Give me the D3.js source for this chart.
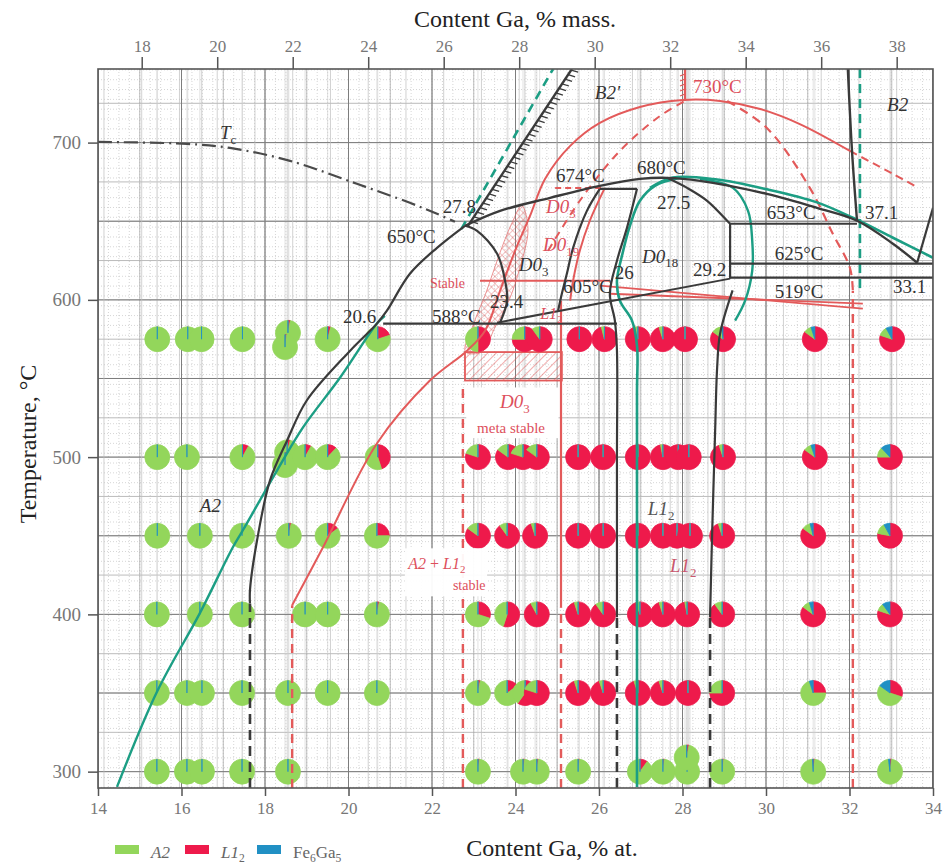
<!DOCTYPE html>
<html>
<head>
<meta charset="utf-8">
<script src="https://cdn.jsdelivr.net/npm/d3@7"></script>
<style>
body { margin: 0; background: #fff; }
svg text { font-family: "Liberation Serif", "DejaVu Serif", serif; }
</style>
</head>
<body>
<script>
// ---- samples: composition (at.% Ga), anneal temperature, phase shares (L12, Fe6Ga5; rest is A2)
const sampleAt = [
  // 575
  15.42, 16.15, 16.48, 17.46, 18.55, 18.48, 19.50, 20.70, 23.10, 24.22, 24.58, 25.53, 26.13, 26.93, 27.53, 28.06, 28.97, 31.17, 33.02,
  // 500
  15.42, 16.13, 17.46, 18.53, 18.48, 18.96, 19.50, 20.70, 23.10, 23.82, 24.18, 24.51, 25.50, 26.10, 26.93, 27.53, 27.90, 28.15, 28.97, 31.17, 32.97,
  // 450
  15.42, 16.44, 17.45, 18.57, 19.50, 20.68, 23.10, 23.80, 24.47, 25.50, 26.10, 26.93, 27.53, 27.87, 28.18, 28.95, 31.13, 32.97,
  // 400
  15.41, 16.44, 17.45, 18.96, 19.50, 20.68, 23.10, 23.80, 24.51, 25.50, 26.10, 26.98, 27.53, 28.11, 28.95, 31.13, 32.97,
  // 350
  15.41, 16.13, 16.49, 17.45, 18.55, 19.50, 20.68, 23.10, 23.80, 24.23, 24.51, 25.50, 26.10, 26.93, 27.53, 28.13, 28.95, 31.13, 32.97,
  // 300
  15.41, 16.13, 16.49, 17.45, 18.55, 23.10, 24.18, 24.51, 25.50, 26.98, 27.53, 28.11, 28.10, 28.95, 31.13, 32.97
]
const sampleT = [
  575, 575, 575, 575, 579, 570, 575, 575, 575, 575, 575, 575, 575, 575, 575, 575, 575, 575, 575,
  500, 500, 500, 503, 495, 500, 500, 500, 500, 500, 500, 500, 500, 500, 500, 500, 500, 500, 500, 500, 500,
  450, 450, 450, 450, 450, 450, 450, 450, 450, 450, 450, 450, 450, 450, 450, 450, 450, 450,
  400, 400, 400, 400, 400, 400, 400, 400, 400, 400, 400, 400, 400, 400, 400, 400, 400,
  350, 350, 350, 350, 350, 350, 350, 350, 350, 350, 350, 350, 350, 350, 350, 350, 350, 350, 350,
  300, 300, 300, 300, 300, 300, 300, 300, 300, 300, 300, 300, 309, 300, 300, 300
]
const shareL12 = [
  0, 0, 0, 0, 0.03, 0.02, 0.04, 0.20, 0.50, 0.75, 0.90, 1, 0.96, 0.97, 0.95, 1, 0.85, 0.85, 0.80,
  0, 0, 0.08, 0.04, 0.02, 0.08, 0.12, 0.45, 0.80, 0.85, 0.80, 0.85, 1, 1, 1, 0.97, 1, 1, 0.95, 0.85, 0.75,
  0, 0, 0, 0.03, 0.15, 0.25, 0.85, 0.90, 0.95, 1, 1, 1, 1, 1, 1, 0.95, 0.85, 0.78,
  0, 0, 0, 0, 0, 0.03, 0.30, 0.55, 0.92, 0.95, 0.90, 0.95, 0.95, 0.97, 0.90, 0.85, 0.80,
  0, 0, 0, 0, 0, 0, 0, 0.03, 0.15, 0.60, 0.80, 0.95, 0.95, 0.95, 0.95, 1, 0.75, 0.25, 0.30,
  0, 0, 0, 0, 0, 0.02, 0.02, 0.02, 0.02, 0.10, 0.02, 0.02, 0.03, 0.02, 0.02, 0.02
]
const shareFe = [
  0, 0, 0, 0, 0, 0, 0, 0, 0, 0, 0, 0, 0, 0, 0, 0, 0.02, 0.05, 0.08,
  0, 0, 0, 0, 0, 0, 0, 0, 0, 0, 0, 0, 0, 0, 0, 0, 0, 0, 0, 0.05, 0.12,
  0, 0, 0, 0, 0, 0, 0, 0, 0, 0, 0, 0, 0, 0, 0, 0, 0.04, 0.08,
  0, 0, 0, 0, 0, 0, 0, 0, 0, 0, 0, 0, 0, 0, 0, 0.05, 0.10,
  0, 0, 0, 0, 0, 0, 0, 0, 0, 0, 0, 0, 0, 0, 0, 0, 0, 0.05, 0.15,
  0, 0, 0, 0, 0, 0, 0, 0, 0, 0, 0, 0, 0, 0, 0.01, 0.02
]

// ---- axis ticks
const atTicks = [14, 16, 18, 20, 22, 24, 26, 28, 30, 32, 34]
const massTicks = [18, 20, 22, 24, 26, 28, 30, 32, 34, 36, 38]
const tempTicks = [300, 400, 500, 600, 700]

// ---- phase boundaries, [at.% Ga, °C]
const tcLine = [[14, 700.4], [16.13, 699.2], [17.16, 696.6], [18.6, 688.4], [20.2, 673.8], [21.47, 661.7], [22.12, 654.7], [22.55, 649.6]]
const a2Black = [[17.64, 407], [17.64, 415.4], [17.81, 447.1], [18.12, 485.2], [18.53, 510.6], [19.0, 536], [20.04, 567.7], [20.68, 584.9], [20.92, 593.1], [21.47, 616.6], [22.12, 633.1], [22.79, 647.1]]
const a2BlackLow = [[17.64, 289.6], [17.64, 407]]
const a2Teal = [[14.455, 290.3], [15.41, 350.6], [16.44, 400.8], [17.23, 442.7], [17.47, 453.5], [18.29, 491.6], [18.91, 518.9], [19.8, 550.6], [20.68, 584.9], [20.87, 589.9]]
const b2pBlack = [[22.86, 647], [25.35, 746.8]]
const b2pTeal = [[22.7, 645], [24.9, 746.8]]
const b2Black = [[22.79, 647.1], [23.63, 656.6], [24.83, 664.9], [26.02, 672.5], [26.98, 676.9], [27.63, 677.6], [28.42, 675.7], [30.02, 667.4], [31.22, 658.5], [32.18, 650.3], [33.04, 635.7], [33.62, 623.6]]
const b2Edge = [[33.62, 623.6], [34, 658.5]]
const b2Teal = [[27.22, 671.2], [27.77, 677.8], [28.83, 676.5], [30.02, 670.3], [31.22, 662], [32.08, 652.2], [33.04, 639.5], [34, 626.8]]
const d018Left = [[27.94, 677.6], [27.34, 672.5], [26.98, 663], [26.74, 647.1], [26.55, 628], [26.43, 612.2], [26.5, 599.5], [26.79, 586.8], [26.91, 570.9], [26.91, 540], [26.91, 290.3]]
const d018Right = [[28.42, 676.9], [29.21, 671.2], [29.57, 656.6], [29.67, 637.6], [29.67, 618.5], [29.5, 599.5], [29.26, 586.8]]
const loop674Left = [[26.02, 670.6], [25.71, 656.6], [25.38, 633.1], [25.23, 616.6], [25.11, 603.9], [25.02, 593.1]]
const loop674Top = [[26.02, 670.6], [26.91, 670.6]]
const d03Right = [[26.91, 670.6], [26.67, 645.8], [26.43, 624.9], [26.26, 603.9], [26.38, 586.8], [26.43, 567.7], [26.43, 500], [26.43, 398.2]]
const d03RightLow = [[26.43, 289.6], [26.43, 398.2]]
const dome680 = [[27.63, 677.6], [28.11, 671.2], [28.59, 663], [29.07, 650.3], [29.14, 648.4]]
const step292 = [[29.14, 648.4], [29.14, 613.5]]
const line653 = [[29.14, 648.4], [32.18, 648.4]]
const line625 = [[29.14, 623], [34, 623]]
const line614 = [[29.14, 614.1], [34, 614.1]]
const line605 = [[23.56, 585.5], [29.14, 613.5]]
const line588 = [[20.83, 584.9], [26.43, 584.9]]
const d03Left = [[22.79, 647.1], [23.08, 643.9], [23.56, 629.3], [23.75, 612.2], [23.8, 599.5], [23.63, 585.5]]
const l12Right = [[29.2, 606], [28.9, 578.5], [28.83, 557], [28.78, 515.1], [28.71, 451.6], [28.66, 398.2]]
const l12RightLow = [[28.66, 289.6], [28.66, 398.2]]
const b2Right = [[31.96, 746.8], [32.06, 694.7], [32.18, 650.3]]
const b2RightTeal = [[32.25, 746.8], [32.25, 605.8]]

const l12Meta = [[18.65, 405.8], [19.39, 442.7], [20.68, 508.7], [21.95, 548.7], [22.84, 567.7], [23.27, 580.4], [23.63, 605.8], [23.99, 631.2], [24.35, 653.5], [24.71, 677.0], [25.31, 697.9], [26.02, 712.5], [26.98, 722.6], [28.01, 727.1], [28.9, 726.5], [29.86, 721.4], [30.81, 711.8], [32.01, 694.7]]
const l12MetaTail = [[32.01, 694.7], [33.04, 680.1], [33.6, 672]]
const l12MetaLow = [[18.65, 289.6], [18.65, 405.8]]
const a2l12Stable = [[22.74, 289.6], [22.74, 546.8]]
const d03MetaRight = [[25.09, 404.6], [25.09, 599.5]]
const d03MetaRightLow = [[25.09, 289.6], [25.09, 404.6]]
const b2MetaRight = [[29.07, 726.5], [30.02, 709.3], [31.05, 671.2], [31.6, 642], [32.01, 620.4], [32.08, 605.8]]
const b2MetaRightLow = [[32.08, 289.6], [32.08, 605.8]]
const d03MetaDiag = [[24.78, 631.2], [25.54, 663], [26.5, 694.7], [27.46, 716.9], [28.06, 726.5]]
const d03Red = [[26.14, 671.2], [25.78, 650.3], [25.54, 631.2], [25.38, 612.2], [25.31, 599.5]]
const d03RedTop = [[24.95, 671.2], [26.14, 671.2]]
const red612 = [[23.15, 612.2], [26.26, 612.2]]
const red519a = [[26.02, 609], [32.32, 594.4]]
const red519b = [[26.26, 603.9], [32.32, 597.6]]
const peak730 = [[28.06, 746.8], [28.06, 726.5]]
const stableZone = [[22.8, 567], [23.0, 585], [23.3, 605], [23.6, 628], [23.9, 648], [24.15, 660], [24.3, 645], [24.1, 620], [23.85, 600], [23.5, 582], [23.2, 567]]
const metaBoxAt = [22.79, 25.11]
const metaBoxT = [548.7, 566.8]

// ---- text notes
const notes = [
  { parts: [['T', 'i'], ['c', 'sub']], at: 16.92, T: 702.3 },
  { parts: [['27.8']], at: 22.26, T: 655.3 },
  { parts: [['650°C']], at: 20.92, T: 636.3 },
  { parts: [['Stable']], at: 21.95, T: 607.7, color: 'red', size: 14 },
  { parts: [['20.6']], at: 19.87, T: 585.5 },
  { parts: [['588°C']], at: 22.0, T: 585.5 },
  { parts: [['23.4']], at: 23.39, T: 595 },
  { parts: [['D0', 'i'], ['3', 'sub']], at: 24.08, T: 618.5 },
  { parts: [['D0', 'i'], ['3', 'sub']], at: 24.73, T: 655.3, color: 'red' },
  { parts: [['D0', 'i'], ['19', 'sub']], at: 24.66, T: 631.2, color: 'red' },
  { parts: [['674°C']], at: 24.97, T: 675.1 },
  { parts: [['680°C']], at: 26.91, T: 680.1 },
  { parts: [['27.5']], at: 27.39, T: 657.8 },
  { parts: [["B2'", 'i']], at: 25.9, T: 727.7 },
  { parts: [['730°C']], at: 28.25, T: 731.5, color: 'red' },
  { parts: [['B2', 'i']], at: 32.9, T: 720.2 },
  { parts: [['653°C']], at: 30.02, T: 651.6 },
  { parts: [['37.1']], at: 32.37, T: 651.6 },
  { parts: [['625°C']], at: 30.21, T: 625.5 },
  { parts: [['D0', 'i'], ['18', 'sub']], at: 27.03, T: 623.6 },
  { parts: [['26']], at: 26.38, T: 613.5 },
  { parts: [['29.2']], at: 28.25, T: 615.4 },
  { parts: [['605°C']], at: 25.14, T: 604.5 },
  { parts: [['519°C']], at: 30.21, T: 601.4 },
  { parts: [['33.1']], at: 33.04, T: 604.5 },
  { parts: [['L1', 'i'], ['2', 'sub']], at: 24.59, T: 588, color: 'red', size: 16 },
  { parts: [['D0', 'i'], ['3', 'sub']], at: 23.63, T: 531, color: 'red' },
  { parts: [['meta stable']], at: 23.08, T: 515.5, color: 'red', size: 15 },
  { parts: [['A2', 'i']], at: 16.44, T: 464.9 },
  { parts: [['L1', 'i'], ['2', 'sub']], at: 27.17, T: 462.9, color: 'gray' },
  { parts: [['L1', 'i'], ['2', 'sub']], at: 27.7, T: 426.8, color: 'pink' },
  { parts: [['A2', 'i'], [' + '], ['L1', 'i'], ['2', 'sub']], at: 21.43, T: 429, color: 'red', size: 16 },
  { parts: [['stable']], at: 22.5, T: 415.5, color: 'red', size: 14 }
]

// ---------------------------------------------------------------
const ink = '#3a3a3a'
const teal = '#1c9e84'
const red = '#e35a5a'
const noteColors = { red: '#dd4f5c', gray: '#555', pink: '#c9586e' }
const phaseColors = { A2: '#93d65b', L12: '#ee1a4b', Fe6Ga5: '#2190c4' }

const svg = d3.select('body').append('svg')
    .attr('width', 946)
    .attr('height', 865)
    .style('background', '#fff')

const x = d3.scaleLinear().domain([14, 34]).range([98, 933])
const xTop = d3.scaleLinear().domain([16.842, 38.962]).range([98, 933])
const y = d3.scaleLinear().domain([289.6, 746.8]).range([788, 69])

const defs = svg.append('defs')
defs.append('clipPath').attr('id', 'plot')
    .append('rect').attr('x', 98).attr('y', 69).attr('width', 835).attr('height', 719)
const diag = defs.append('pattern').attr('id', 'diag')
    .attr('width', 6).attr('height', 6).attr('patternUnits', 'userSpaceOnUse')
    .attr('patternTransform', 'rotate(45)')
diag.append('line').attr('x1', 0).attr('y1', 0).attr('x2', 0).attr('y2', 6)
    .attr('stroke', red).attr('stroke-width', 1)
const cross = defs.append('pattern').attr('id', 'cross')
    .attr('width', 5).attr('height', 5).attr('patternUnits', 'userSpaceOnUse')
    .attr('patternTransform', 'rotate(45)')
cross.append('path').attr('d', 'M0,0 L0,5 M0,0 L5,0')
    .attr('stroke', red).attr('stroke-width', 0.9)

// grid (graph-paper look)
const grid = svg.append('g').attr('clip-path', 'url(#plot)')
function vLines(vals, stroke, width, dash) {
    grid.selectAll(null).data(vals).join('line')
        .attr('x1', d => x(d)).attr('x2', d => x(d))
        .attr('y1', 69).attr('y2', 788)
        .attr('stroke', stroke).attr('stroke-width', width)
        .attr('stroke-dasharray', dash)
}
function hLines(vals, stroke, width, dash) {
    grid.selectAll(null).data(vals).join('line')
        .attr('y1', d => y(d)).attr('y2', d => y(d))
        .attr('x1', 98).attr('x2', 933)
        .attr('stroke', stroke).attr('stroke-width', width)
        .attr('stroke-dasharray', dash)
}
vLines(d3.range(14, 34.01, 0.25), '#c4c4c4', 0.7, '1,2')
hLines(d3.range(290, 747, 6.25), '#c4c4c4', 0.7, '1,2')
vLines(d3.range(14, 34.01, 1), '#a9a9a9', 0.8, null)
hLines(d3.range(300, 747, 25), '#a9a9a9', 0.8, null)
vLines(Array.from(new Set(sampleAt)), '#cdcdcd', 0.6, null)
vLines(d3.range(14, 34.01, 2), '#7d7d7d', 1, null)
hLines(d3.range(300, 747, 50), '#7d7d7d', 1, null)
grid.selectAll(null).data(d3.range(17, 39, 1)).join('line')
    .attr('x1', d => xTop(d)).attr('x2', d => xTop(d))
    .attr('y1', 69).attr('y2', 788)
    .attr('stroke', '#bdbdbd').attr('stroke-width', 0.7)

const plot = svg.append('g').attr('clip-path', 'url(#plot)')

// white field behind the metastable label
plot.append('rect')
    .attr('x', x(22.82)).attr('y', y(544.3))
    .attr('width', x(25.03) - x(22.82)).attr('height', y(512) - y(544.3))
    .attr('fill', '#fff')

// hatched regions
plot.append('rect')
    .attr('x', x(metaBoxAt[0])).attr('y', y(metaBoxT[1]))
    .attr('width', x(metaBoxAt[1]) - x(metaBoxAt[0]))
    .attr('height', y(metaBoxT[0]) - y(metaBoxT[1]))
    .attr('fill', 'url(#diag)').attr('stroke', red).attr('stroke-width', 1.8)
plot.append('path')
    .attr('d', d3.line().x(d => x(d[0])).y(d => y(d[1])).curve(d3.curveCatmullRomClosed)(stableZone))
    .attr('fill', 'url(#cross)').attr('stroke', red).attr('stroke-width', 0.8).attr('opacity', 0.8)

// pies
const pie = d3.pie().sort(null).value(d => d.v)
const arc = d3.arc().innerRadius(0).outerRadius(12.5)
sampleAt.forEach((a, i) => {
    const parts = [
        { k: 'L12', v: shareL12[i] },
        { k: 'A2', v: 1 - shareL12[i] - shareFe[i] },
        { k: 'Fe6Ga5', v: shareFe[i] }
    ]
    plot.append('g')
        .attr('transform', `translate(${x(a)},${y(sampleT[i])})`)
        .selectAll('path').data(pie(parts)).join('path')
        .attr('d', arc)
        .attr('fill', d => phaseColors[d.data.k])
        .attr('stroke', d => phaseColors[d.data.k])
        .attr('stroke-width', 0.8)
})

// boundaries
const smooth = d3.line().x(d => x(d[0])).y(d => y(d[1])).curve(d3.curveCatmullRom.alpha(0.5))
const straight = d3.line().x(d => x(d[0])).y(d => y(d[1]))
function bound(pts, color, width, dash, gen) {
    plot.append('path')
        .attr('d', (gen || smooth)(pts))
        .attr('fill', 'none')
        .attr('stroke', color)
        .attr('stroke-width', width)
        .attr('stroke-dasharray', dash)
        .attr('stroke-linejoin', 'round')
}

// red (metastable) set
bound(l12Meta, red, 2)
bound(l12MetaTail, red, 2, '8,5')
bound(l12MetaLow, red, 2.4, '9,6', straight)
bound(a2l12Stable, red, 2.4, '9,6', straight)
bound(d03MetaRight, red, 2.2, null, straight)
bound(d03MetaRightLow, red, 2.4, '9,6', straight)
bound(b2MetaRight, red, 2.2, '9,6')
bound(b2MetaRightLow, red, 2.4, '9,6', straight)
bound(d03MetaDiag, red, 2, '8,6')
bound(d03Red, red, 2)
bound(d03RedTop, red, 2, '6,4', straight)
bound(red612, red, 2, null, straight)
bound(red519a, red, 1.8, null, straight)
bound(red519b, red, 1.8, null, straight)
bound(peak730, red, 2.2, null, straight)

// teal set
bound(a2Teal, teal, 2.4)
bound(b2pTeal, teal, 2.6, '9,6', straight)
bound(b2Teal, teal, 2.6)
bound(d018Left, teal, 2.6)
bound(d018Right, teal, 2.4)
bound(b2RightTeal, teal, 2.6, '9,6', straight)

// black (stable) set
bound(tcLine, '#4a4a4a', 2.2, '14,5,2,5')
bound(a2Black, ink, 2.2)
bound(a2BlackLow, ink, 2.6, '10,6', straight)
bound(b2pBlack, ink, 2.4, null, straight)
bound(b2Black, ink, 2.4)
bound(b2Edge, ink, 2.2, null, straight)
bound(loop674Left, ink, 2.2)
bound(loop674Top, ink, 2.2, null, straight)
bound(d03Right, ink, 2.2)
bound(d03RightLow, ink, 2.6, '10,6', straight)
bound(dome680, ink, 2.2)
bound(step292, ink, 2.2, null, straight)
bound(line653, ink, 2.2, null, straight)
bound(line625, ink, 2.2, null, straight)
bound(line614, ink, 2.2, null, straight)
bound(line605, ink, 2, null, straight)
bound(line588, ink, 2.2, null, straight)
bound(d03Left, ink, 2.2)
bound(l12Right, ink, 2.2)
bound(l12RightLow, ink, 2.6, '10,6', straight)
bound(b2Right, ink, 2.4)

// hatch ticks on the B2' boundary and on the 730 °C marker
function hatch(seg, color, step, size) {
    const p0 = [x(seg[0][0]), y(seg[0][1])]
    const p1 = [x(seg[1][0]), y(seg[1][1])]
    const len = Math.hypot(p1[0] - p0[0], p1[1] - p0[1])
    const ux = (p1[0] - p0[0]) / len, uy = (p1[1] - p0[1]) / len
    plot.selectAll(null).data(d3.range(step, len, step)).join('line')
        .attr('x1', d => p0[0] + ux * d).attr('y1', d => p0[1] + uy * d)
        .attr('x2', d => p0[0] + ux * d - uy * size + ux * 2).attr('y2', d => p0[1] + uy * d + ux * size + uy * 2)
        .attr('stroke', color).attr('stroke-width', 1.3)
}
hatch(b2pBlack, ink, 5.5, 7)
hatch(peak730, red, 5, 5)

// white field behind the stable label
plot.append('rect')
    .attr('x', x(21.35)).attr('y', y(442))
    .attr('width', x(23.32) - x(21.35)).attr('height', y(411.5) - y(442))
    .attr('fill', '#fff').attr('opacity', 0.95)

// notes
function richText(g, xp, yp, parts, color, size) {
    const t = g.append('text').attr('x', xp).attr('y', yp)
        .attr('fill', color).attr('font-size', size)
    let shifted = false
    parts.forEach(p => {
        const s = t.append('tspan').text(p[0])
        if (p[1] === 'i') s.attr('font-style', 'italic')
        if (p[1] === 'sub') {
            s.attr('font-size', size * 0.68).attr('dy', size * 0.25)
            shifted = true
        } else if (shifted) {
            s.attr('dy', -size * 0.25)
            shifted = false
        }
    })
    return t
}
notes.forEach(n => {
    richText(plot, x(n.at), y(n.T), n.parts, n.color ? noteColors[n.color] : '#333', n.size || 19)
})

// frame and axes
svg.append('rect').attr('x', 98).attr('y', 69).attr('width', 835).attr('height', 719)
    .attr('fill', 'none').attr('stroke', '#555').attr('stroke-width', 1.6)

function styleAxis(g, size) {
    g.select('.domain').remove()
    g.selectAll('.tick line').attr('stroke', '#555').attr('stroke-width', 1.5)
    g.selectAll('.tick text').attr('fill', '#777').attr('font-size', size)
        .attr('font-family', '"Liberation Serif", serif')
}
svg.append('g').attr('transform', 'translate(0,788)')
    .call(d3.axisBottom(x).tickValues(atTicks).tickSize(8).tickPadding(6).tickFormat(d3.format('d')))
    .call(g => styleAxis(g, 17))
svg.append('g').attr('transform', 'translate(0,69)')
    .call(d3.axisTop(xTop).tickValues(massTicks).tickSize(12).tickPadding(5).tickFormat(d3.format('d')))
    .call(g => styleAxis(g, 17))
svg.append('g').attr('transform', 'translate(98,0)')
    .call(d3.axisLeft(y).tickValues(tempTicks).tickSize(10).tickPadding(7).tickFormat(d3.format('d')))
    .call(g => styleAxis(g, 19))

svg.append('text').attr('x', 515).attr('y', 27).attr('text-anchor', 'middle')
    .attr('font-size', 24).attr('fill', '#222').text('Content Ga, % mass.')
svg.append('text').attr('x', 552).attr('y', 856).attr('text-anchor', 'middle')
    .attr('font-size', 24).attr('fill', '#222').text('Content Ga, % at.')
svg.append('text').attr('transform', 'translate(36,444) rotate(-90)').attr('text-anchor', 'middle')
    .attr('font-size', 24).attr('fill', '#222').text('Temperature, °C')

// legend
const legend = svg.append('g')
const legendItems = [
    { k: 'A2', px: 115, parts: [['A2', 'i']] },
    { k: 'L12', px: 185, parts: [['L1', 'i'], ['2', 'sub']] },
    { k: 'Fe6Ga5', px: 257, parts: [['Fe'], ['6', 'sub'], ['Ga'], ['5', 'sub']] }
]
legendItems.forEach(it => {
    legend.append('rect').attr('x', it.px).attr('y', 845).attr('width', 24).attr('height', 9)
        .attr('fill', phaseColors[it.k])
    richText(legend, it.px + 36, 858, it.parts, '#666', 17)
})
</script>
</body>
</html>
